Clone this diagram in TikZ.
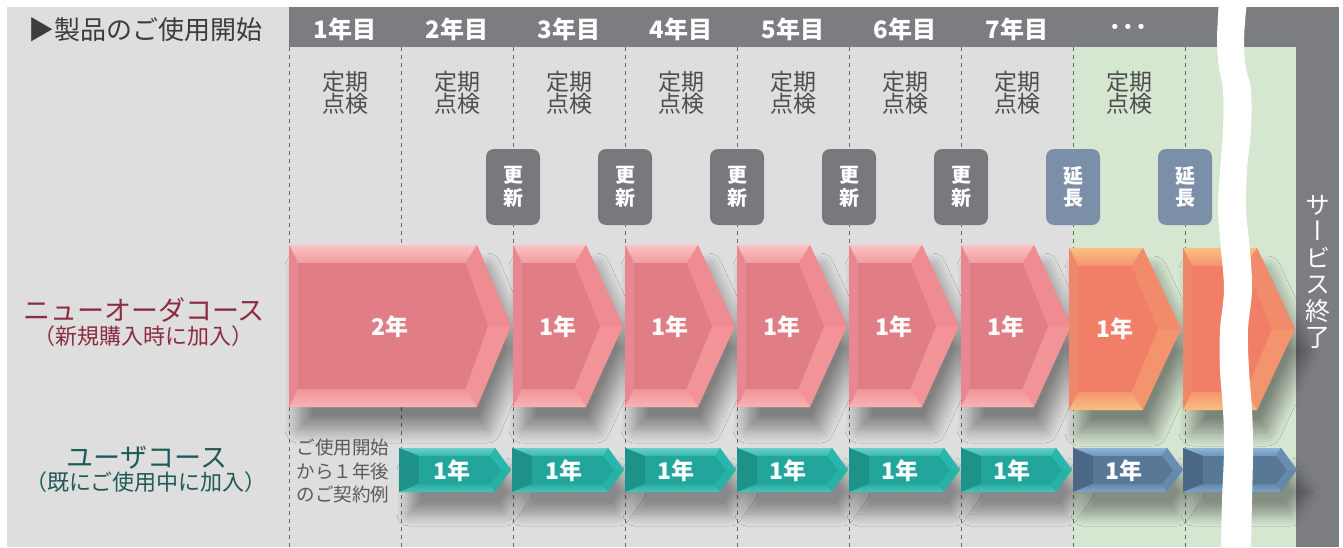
\documentclass[tikz,border=0pt]{standalone}
\usepackage{fontspec}
\setmainfont{Noto Sans CJK JP}
\newfontfamily\vjp{Noto Sans CJK JP}[RawFeature=+vert]
\newfontfamily\dvs{DejaVu Sans}
\usetikzlibrary{shadows.blur}
\definecolor{bgGray}{HTML}{DEDEDE}
\definecolor{bgGreen}{HTML}{D5E6D1}
\definecolor{barGray}{HTML}{7C7D81}
\definecolor{dashGray}{HTML}{6A6A6A}
\definecolor{txtDark}{HTML}{3C3C3C}
\definecolor{txtMid}{HTML}{4D4D4D}
\definecolor{txtSmall}{HTML}{5A5A5A}
\definecolor{redLbl}{HTML}{8B2C40}
\definecolor{tealLbl}{HTML}{1E5A56}
\definecolor{updBox}{HTML}{78797D}
\definecolor{extBox}{HTML}{7C8FA8}
% pink
\definecolor{pkR}{HTML}{F29398}\definecolor{pkT}{HTML}{F9C4C4}\definecolor{pkTb}{HTML}{F29A9F}
\definecolor{pkU}{HTML}{EE8C92}\definecolor{pkL}{HTML}{E8878D}\definecolor{pkB}{HTML}{F7B3B4}
\definecolor{pkBb}{HTML}{F1959A}\definecolor{pkC}{HTML}{E07D85}
% orange
\definecolor{orR}{HTML}{F4946F}\definecolor{orT}{HTML}{F8C080}\definecolor{orTb}{HTML}{F49470}
\definecolor{orU}{HTML}{F28B6C}\definecolor{orL}{HTML}{EF876A}\definecolor{orB}{HTML}{F8BE82}
\definecolor{orBb}{HTML}{F49672}\definecolor{orC}{HTML}{F17F67}
% teal
\definecolor{tlR}{HTML}{27B0A4}\definecolor{tlT}{HTML}{6ACFC7}\definecolor{tlTb}{HTML}{35B8AD}
\definecolor{tlU}{HTML}{2BB6AB}\definecolor{tlL}{HTML}{1E9289}\definecolor{tlB}{HTML}{4DC2B8}
\definecolor{tlBb}{HTML}{27AEA2}\definecolor{tlC}{HTML}{22A69B}
% blue
\definecolor{blR}{HTML}{6489AB}\definecolor{blT}{HTML}{8DB3D6}\definecolor{blTb}{HTML}{6F95B9}
\definecolor{blU}{HTML}{6A8EB1}\definecolor{blL}{HTML}{4A6886}\definecolor{blB}{HTML}{7CA3C8}
\definecolor{blBb}{HTML}{6489AB}\definecolor{blC}{HTML}{577897}

\newcommand\FS[2]{\fontsize{#1}{#2}\selectfont}
% #1 x0, #2 tip x, #3 slant, #4 top, #5 bottom, #6 colour prefix, #7 left inset, #8 vertical inset, #9 tip inset
\newcommand\BevArrow[9]{%
\pgfmathsetmacro\am{(#4+#5)/2}%
\pgfmathsetmacro\axb{#2-#3}%
\pgfmathsetmacro\aik{#2-#3-#9/2}%
\pgfmathsetmacro\ait{#2-#9}%
\pgfmathsetmacro\ail{#1+#7}%
\pgfmathsetmacro\aitop{#4+#8}%
\pgfmathsetmacro\aibot{#5-#8}%
\fill[#6R] (#1,#4) -- (\axb,#4) -- (#2,\am) -- (\axb,#5) -- (#1,#5) -- cycle;
\shade[top color=#6T,bottom color=#6Tb] (#1,#4) -- (\axb,#4) -- (\aik,\aitop) -- (\ail,\aitop) -- cycle;
\fill[#6U] (\axb,#4) -- (#2,\am) -- (\ait,\am) -- (\aik,\aitop) -- cycle;
\fill[#6L] (#1,#4) -- (\ail,\aitop) -- (\ail,\aibot) -- (#1,#5) -- cycle;
\shade[top color=#6Bb,bottom color=#6B] (#1,#5) -- (\ail,\aibot) -- (\aik,\aibot) -- (\axb,#5) -- cycle;
\fill[#6C] (\ail,\aitop) -- (\aik,\aitop) -- (\ait,\am) -- (\aik,\aibot) -- (\ail,\aibot) -- cycle;
}
\newcommand\ArrShadow[6]{%
\pgfmathsetmacro\am{(#4+#5)/2}%
\pgfmathsetmacro\axb{#2-#3}%
\path[#6] (#1,#4) -- (\axb,#4) -- (#2,\am) -- (\axb,#5) -- (#1,#5) -- cycle;
}

\begin{document}
\begin{tikzpicture}[x=1pt,y=-1pt,
  bigshadow/.style={blur shadow={shadow xshift=10pt,shadow yshift=-22pt,shadow blur radius=14pt,shadow blur steps=14,shadow opacity=42}},
  smallshadow/.style={blur shadow={shadow xshift=10pt,shadow yshift=-22pt,shadow blur radius=12pt,shadow blur steps=12,shadow opacity=38}},
  dashline/.style={draw=dashGray,line width=0.9pt,dash pattern=on 4pt off 4pt},
  hdr/.style={text=white,font=\FS{24}{26}\bfseries,inner sep=0pt},
  insp/.style={text=txtMid,font=\FS{23}{22.5},align=center,inner sep=0pt},
  tagbox/.style={rounded corners=8pt,minimum width=54pt,minimum height=76pt,inner sep=0pt,
     text=white,font=\FS{20}{22.5}\bfseries,align=center},
  arrtxt/.style={text=white,font=\FS{23}{25}\bfseries,inner sep=0pt}]
\useasboundingbox (0,0) rectangle (1343,547);
\fill[white] (0,0) rectangle (1343,547);
% backgrounds
\fill[bgGray] (7,7) rectangle (1296,547);
\fill[bgGreen] (1073,47) rectangle (1296,547);
\fill[barGray] (289,7) rectangle (1339,47);
\fill[barGray] (1296,7) rectangle (1339,547);
% dashed column lines
\foreach \i in {0,...,8} \draw[dashline] ({289+112*\i},47) -- ({289+112*\i},547);
% header texts
\node[text=txtDark,font=\FS{26}{28},inner sep=0pt] (start) at (145,30) {▶製品のご使用開始};
\foreach \n in {1,...,7} \node[hdr] (y\n) at ({345+112*(\n-1)},29) {\n 年目};
\node[text=white,font=\dvs\FS{15}{16}\bfseries,inner sep=0pt] (dots) at (1128,28) {•\hspace{3.5pt}•\hspace{3.5pt}•};
% inspections
\foreach \n in {1,...,8} \node[insp] (insp\n) at ({345+112*(\n-1)},93) {定期\\点検};
% update / extend tags
\foreach \n/\x in {1/513,2/625,3/737,4/849,5/961} \node[tagbox,fill=updBox] (upd\n) at (\x,187) {更\\新};
\node[tagbox,fill=extBox] (ext1) at (1073,187) {延\\長};
\node[tagbox,fill=extBox] (ext2) at (1185,187) {延\\長};
% shadows
\ArrShadow{289}{511}{34}{245}{407}{bigshadow}
\foreach \x in {513,625,737,849,961} {\ArrShadow{\x}{\x+110}{37}{245}{407}{bigshadow}}
\ArrShadow{1069}{1181}{38}{248}{410}{bigshadow}
\ArrShadow{1183}{1295}{38}{248}{410}{bigshadow}
\foreach \x/\t in {399/511,512/624,625/736,737/848,849/960,961/1072,1073/1183,1183/1297} {\ArrShadow{\x}{\t}{16}{448}{492}{smallshadow}}
% new-order course arrows
\BevArrow{289}{511}{34}{245}{407}{pk}{9}{18}{23}
\foreach \x in {513,625,737,849,961} {\BevArrow{\x}{\x+110}{37}{245}{407}{pk}{9}{18}{23}}
\BevArrow{1069}{1181}{38}{248}{410}{or}{9}{18}{23}
\BevArrow{1183}{1295}{38}{248}{410}{or}{9}{18}{23}
\node[arrtxt] (n0) at (390,327) {2年};
\foreach \n/\x in {1/513,2/625,3/737,4/849,5/961} \node[arrtxt] (n\n) at (\x+45,327) {1年};
\node[arrtxt] (n6) at (1115,329) {1年};
% user course arrows
\foreach \x/\t in {399/511,512/624,625/736,737/848,849/960,961/1072} {\BevArrow{\x}{\t}{16}{448}{492}{tl}{20}{8}{10}}
\BevArrow{1073}{1183}{16}{448}{492}{bl}{20}{8}{10}
\BevArrow{1183}{1297}{16}{448}{492}{bl}{20}{8}{10}
\foreach \n/\x in {1/401,2/513,3/625,4/737,5/849,6/961,7/1073} \node[arrtxt] (u\n) at (\x+51,471) {1年};
% left labels
\node[text=redLbl,font=\FS{27}{29},inner sep=0pt] (nolbl) at (144,310) {ニューオーダコース};
\node[text=redLbl,font=\FS{22}{24},inner sep=0pt] (nosub) at (143,336) {（新規購入時に加入）};
\node[text=tealLbl,font=\FS{27}{29},inner sep=0pt] (uslbl) at (147,458) {ユーザコース};
\node[text=tealLbl,font=\FS{22}{24},inner sep=0pt] (ussub) at (146,482) {（既にご使用中に加入）};
\node[text=txtSmall,font=\FS{18.5}{23.5},align=center,inner sep=0pt] (note) at (343,471) {ご使用開始\\から１年後\\のご契約例};
% wavy break
\fill[white] plot[smooth,tension=0.6] coordinates {(1219,0) (1217,40) (1219,68) (1223,90) (1223,130) (1220,170) (1218,210) (1221,250) (1224,290) (1220,330) (1220,370) (1223,410) (1224,450) (1222,500) (1221,547)}
  -- plot[smooth,tension=0.6] coordinates {(1251,547) (1252,500) (1253,450) (1252,410) (1249,370) (1248,330) (1252,290) (1250,250) (1246,210) (1247,170) (1251,130) (1251,90) (1246,68) (1244,40) (1247,0)} -- cycle;
% service end
\node[text=white,font=\vjp\FS{25}{26.5},align=center,inner sep=0pt] (end) at (1318,272) {サ\\ー\\ビ\\ス\\終\\了};
\end{tikzpicture}
\end{document}
